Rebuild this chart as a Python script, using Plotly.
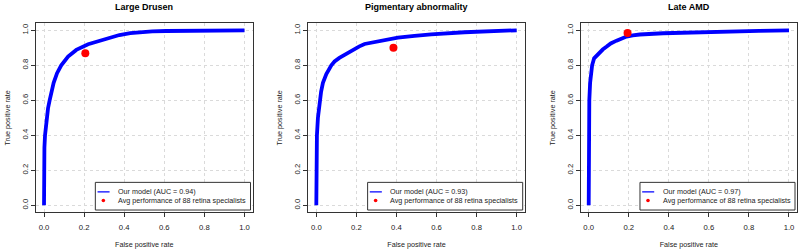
import plotly.graph_objects as go

# ---------------- data ----------------
titles = ["Large Drusen", "Pigmentary abnormality", "Late AMD"]
auc_values = ["0.94", "0.93", "0.97"]

ld_fpr = [0.0, 0.0, 0.002, 0.005, 0.012, 0.02, 0.028, 0.038, 0.048, 0.065, 0.086, 0.12, 0.161, 0.22, 0.277, 0.33, 0.376, 0.43, 0.476, 0.54, 0.609, 0.7, 0.774, 0.88, 1.0]
ld_tpr = [0.0, 0.2, 0.33, 0.4, 0.5, 0.555, 0.6, 0.65, 0.7, 0.755, 0.8, 0.85, 0.888, 0.92, 0.941, 0.959, 0.973, 0.984, 0.99, 0.994, 0.996, 0.998, 0.999, 1.0, 1.0]

pa_fpr = [0.0, 0.0, 0.003, 0.008, 0.017, 0.024, 0.033, 0.05, 0.075, 0.091, 0.115, 0.141, 0.165, 0.191, 0.215, 0.241, 0.324, 0.407, 0.49, 0.573, 0.739, 0.905, 1.0]
pa_tpr = [0.0, 0.2, 0.4, 0.5, 0.6, 0.65, 0.7, 0.75, 0.8, 0.822, 0.842, 0.86, 0.877, 0.892, 0.908, 0.922, 0.939, 0.958, 0.968, 0.977, 0.989, 0.996, 1.0]

amd_fpr = [0.0, 0.0, 0.002, 0.003, 0.007, 0.01, 0.017, 0.027, 0.04, 0.056, 0.07, 0.09, 0.11, 0.139, 0.16, 0.189, 0.22, 0.255, 0.371, 0.537, 0.703, 0.85, 1.0]
amd_tpr = [0.0, 0.3, 0.5, 0.6, 0.7, 0.75, 0.8, 0.84, 0.857, 0.872, 0.89, 0.907, 0.925, 0.941, 0.953, 0.964, 0.971, 0.976, 0.983, 0.989, 0.994, 0.997, 1.0]

spec_fpr = [0.206, 0.385, 0.194]
spec_tpr = [0.869, 0.900, 0.985]

tick_vals = [0.0, 0.2, 0.4, 0.6, 0.8, 1.0]
tick_text = ["0.0", "0.2", "0.4", "0.6", "0.8", "1.0"]

curves = [(ld_fpr, ld_tpr), (pa_fpr, pa_tpr), (amd_fpr, amd_tpr)]

# ---------------- layout constants ----------------
W, H = 800, 251
x_domains = [(36 / W, 252.5 / W), (308.3 / W, 524.7 / W), (580.7 / W, 797 / W)]
y_domain = ((H - 212.3) / H, (H - 23.3) / H)
FONT = "Liberation Sans, Arial, sans-serif"
TXT = "#222222"

fig = go.Figure()

for i, (fx, ty) in enumerate(curves):
    sfx = "" if i == 0 else str(i + 1)
    xa, ya = "x" + sfx, "y" + sfx
    fig.add_trace(go.Scatter(x=fx, y=ty, mode="lines", xaxis=xa, yaxis=ya,
                             line=dict(color="#0000FF", width=3.8),
                             name=f"Our model (AUC = {auc_values[i]})", showlegend=False))
    fig.add_trace(go.Scatter(x=[spec_fpr[i]], y=[spec_tpr[i]], mode="markers", xaxis=xa, yaxis=ya,
                             marker=dict(color="#FF0000", size=8),
                             name="Avg performance of 88 retina specialists", showlegend=False))

    axis_common = dict(range=[-0.04, 1.04], tickvals=tick_vals, ticktext=tick_text,
                       showgrid=True, gridcolor="#DADADA", griddash="dot", gridwidth=1,
                       zeroline=False, showline=True, mirror=True, linecolor="#333333",
                       linewidth=1, ticks="outside", ticklen=4, tickcolor="#333333",
                       tickfont=dict(family=FONT, size=7.7, color=TXT), automargin=False,
                       fixedrange=True)
    fig.update_layout(**{
        "xaxis" + sfx: dict(axis_common, domain=list(x_domains[i]), anchor=ya,
                             ticklabelstandoff=3,
                             title=dict(text="False positive rate", standoff=11,
                                        font=dict(family=FONT, size=7.2, color=TXT))),
        "yaxis" + sfx: dict(axis_common, domain=list(y_domain), anchor=xa, tickangle=-90,
                             title=dict(text="True positive rate", standoff=9,
                                        font=dict(family=FONT, size=7.2, color=TXT))),
    })

    # panel title
    fig.add_annotation(text=f"<b>{titles[i]}</b>", xref="paper", yref="paper",
                       x=(x_domains[i][0] + x_domains[i][1]) / 2, y=(H - 7) / H,
                       showarrow=False, xanchor="center", yanchor="middle",
                       font=dict(family=FONT, size=9, color="#000000"))

    # manual legend (box, line sample, dot sample, texts) in axis coordinates
    fig.add_shape(type="rect", xref=xa, yref=ya, x0=0.256, x1=1.03, y0=-0.027, y1=0.131,
                  line=dict(color="#333333", width=1), fillcolor="white", layer="above")
    fig.add_shape(type="line", xref=xa, yref=ya, x0=0.267, x1=0.327, y0=0.077, y1=0.077,
                  line=dict(color="#0000FF", width=1.3), layer="above")
    fig.add_shape(type="circle", xref=xa, yref=ya, x0=0.287, x1=0.305, y0=0.017, y1=0.037,
                  line=dict(color="#FF0000", width=0), fillcolor="#FF0000", layer="above")
    fig.add_annotation(text=f"Our model (AUC = {auc_values[i]})", xref=xa, yref=ya,
                       x=0.36, y=0.077, showarrow=False, xanchor="left", yanchor="middle",
                       font=dict(family=FONT, size=7.2, color=TXT))
    fig.add_annotation(text="Avg performance of 88 retina specialists", xref=xa, yref=ya,
                       x=0.36, y=0.026, showarrow=False, xanchor="left", yanchor="middle",
                       font=dict(family=FONT, size=7.2, color=TXT))

fig.update_layout(width=W, height=H, margin=dict(l=0, r=0, t=0, b=0),
                  paper_bgcolor="white", plot_bgcolor="white", showlegend=False)

fig.write_html("out.html", config={"displayModeBar": False},
               post_script="document.body.style.margin='0';document.body.style.overflow='hidden';")
